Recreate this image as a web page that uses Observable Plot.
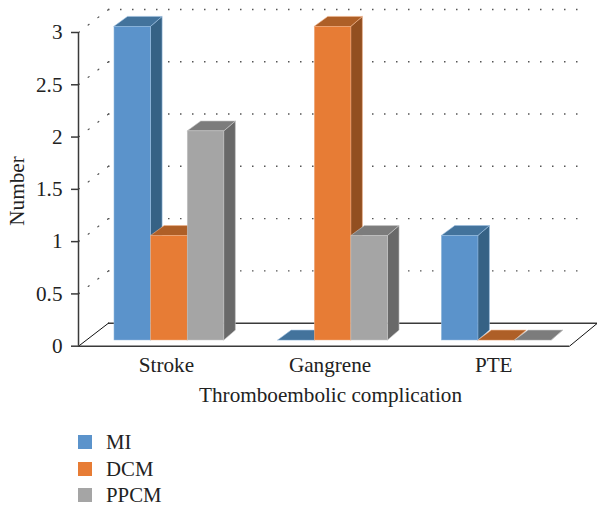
<!DOCTYPE html>
<html>
<head>
<meta charset="utf-8">
<script src="https://cdn.jsdelivr.net/npm/d3@7"></script>
<script src="https://cdn.jsdelivr.net/npm/@observablehq/plot@0.6"></script>
<style>
  html, body { margin: 0; padding: 0; background: #fff; }
  svg { display: block; }
  #legend { position: relative; margin: 19px 0 0 78px; font: 20.8px "Liberation Serif", serif; color: #222; }
  #legend div { display: flex; align-items: center; height: 26.6px; }
  #legend i { width: 14px; height: 14px; margin-right: 14px; display: block; }
</style>
</head>
<body>
<div id="chart"></div>
<div id="legend"></div>
<script>
// ---- values ----
const categories = ["Stroke", "Gangrene", "PTE"];
const seriesNames = ["MI", "DCM", "PPCM"];
const MI = [3, 0, 1];
const DCM = [1, 3, 0];
const PPCM = [2, 1, 0];
const valueTicks = [0, 0.5, 1, 1.5, 2, 2.5, 3];

// ---- styles ----
const frontColors = ["#5b93cb", "#e77c35", "#a5a5a5"];
const topColors = ["#43739c", "#ae5f27", "#7c7c7c"];
const sideColors = ["#366285", "#924f20", "#696969"];
const edgeColors = ["#9cbfe0", "#f0b48c", "#c8c8c8"];
const ink = "#3a3a3a";
const labelSize = 21.2;

// ---- oblique-projection constants, in data units ----
const unitsPerBar = 0.2238;        // bar width, as a fraction of one category
const groupOffset = 0.2198;        // left edge of a bar group inside its category
const frontLift = 0.0545;          // how far the bars' front stands up the floor
const depthLift = 0.0945;          // how far the bars' back stands behind the front
const backLeft = 0.0825;           // sideways shift, left back corner
const backRight = 0.0703;          // sideways shift, right back corner
const wallX = 0.1833;              // back wall sideways offset
const wallY = 0.2205;              // back wall vertical offset
const floorRight = 3.1711;         // right back corner of the floor
const gridEnd = 3.1;               // end of the dotted wall lines

const allValues = [MI, DCM, PPCM];
const bars = allValues.flatMap((vals, s) => vals.map((v, c) => {
  const x1 = c + groupOffset + s * unitsPerBar;
  const x2 = x1 + unitsPerBar;
  const y1 = frontLift;
  const y2 = v + frontLift;
  return {id: `${s}-${c}`, s, v, x1, x2, y1, y2};
}));

const sideFaces = s => bars.filter(b => b.s === s).flatMap(b => [
  {id: b.id, x: b.x2, y1: b.y1, y2: b.y2},
  {id: b.id, x: b.x2 + backRight, y1: b.y1 + depthLift, y2: b.y2 + depthLift}
]);
const topFaces = s => bars.filter(b => b.s === s).flatMap(b => [
  {id: b.id, y: b.y2, x1: b.x1, x2: b.x2},
  {id: b.id, y: b.y2 + depthLift, x1: b.x1 + backLeft, x2: b.x2 + backRight}
]);
const floorFace = [
  {y: 0, x1: 0, x2: 3},
  {y: wallY, x1: wallX, x2: floorRight}
];
const wallDiagonals = valueTicks.slice(1).flatMap(v => [
  {v, x: 0, y: v},
  {v, x: wallX, y: v + wallY}
]);

const plot = Plot.plot({
  width: 597,
  height: 410,
  marginLeft: 78,
  marginRight: 28,
  marginTop: 32,
  marginBottom: 64.3,
  x: {domain: [0, 3], axis: null},
  y: {domain: [0, 3], axis: null},
  style: {fontFamily: '"Liberation Serif", serif', fontSize: labelSize + "px", color: "#222", overflow: "visible"},
  marks: [
    // back wall dots
    Plot.ruleY(valueTicks.slice(1), {
      y: v => v + wallY, x1: wallX, x2: gridEnd,
      stroke: "#555", strokeWidth: 1.4, strokeDasharray: "1.5 10.5"
    }),
    Plot.line(wallDiagonals, {
      x: "x", y: "y", z: "v",
      stroke: "#555", strokeWidth: 1.2, strokeDasharray: "1.2 11"
    }),
    // floor
    Plot.area(floorFace, {x1: "x1", x2: "x2", y1: "y", fill: "#fff"}),
    Plot.ruleY([wallY], {x1: wallX, x2: floorRight, stroke: ink, strokeWidth: 1.5}),
    Plot.line(floorFace, {x: "x1", y: "y", stroke: "#111", strokeWidth: 1}),
    Plot.line(floorFace, {x: "x2", y: "y", stroke: "#111", strokeWidth: 1}),
    // axis
    Plot.ruleX([0], {y1: 0, y2: 3, stroke: ink, strokeWidth: 1.5}),
    Plot.ruleY([0], {x1: 0, x2: 3, stroke: ink, strokeWidth: 1.5}),
    Plot.axisY({
      ticks: valueTicks, tickSize: 7, tickPadding: 9,
      tickFormat: d3.format("~g"), label: null, stroke: ink, strokeWidth: 1.5
    }),
    // bars: sides, tops, fronts
    ...seriesNames.map((_, s) => Plot.area(sideFaces(s), {
      x1: "x", y1: "y1", y2: "y2", z: "id", fill: sideColors[s],
      stroke: edgeColors[s], strokeWidth: 0.6
    })),
    ...seriesNames.map((_, s) => Plot.area(topFaces(s), {
      x1: "x1", x2: "x2", y1: "y", z: "id", fill: topColors[s],
      stroke: edgeColors[s], strokeWidth: 0.6
    })),
    ...seriesNames.map((_, s) => Plot.rect(bars.filter(b => b.s === s && b.v > 0), {
      x1: "x1", x2: "x2", y1: "y1", y2: "y2", fill: frontColors[s],
      stroke: edgeColors[s], strokeWidth: 0.5
    })),
    // labels
    Plot.text(categories, {
      x: (d, i) => i + 0.537, y: 0, dy: 19, text: d => d, fontSize: labelSize
    }),
    Plot.text(["Thromboembolic complication"], {
      x: 1.54, y: 0, dy: 49.5, text: d => d, fontSize: labelSize
    }),
    Plot.text(["Number"], {
      frameAnchor: "left", textAnchor: "middle", dx: -61, y: 1.484, rotate: -90,
      text: d => d, fontSize: labelSize
    })
  ]
});
document.getElementById("chart").append(plot);

const legend = document.getElementById("legend");
seriesNames.forEach((name, s) => {
  const row = document.createElement("div");
  const swatch = document.createElement("i");
  swatch.style.background = frontColors[s];
  row.append(swatch, name);
  legend.append(row);
});
</script>
</body>
</html>
